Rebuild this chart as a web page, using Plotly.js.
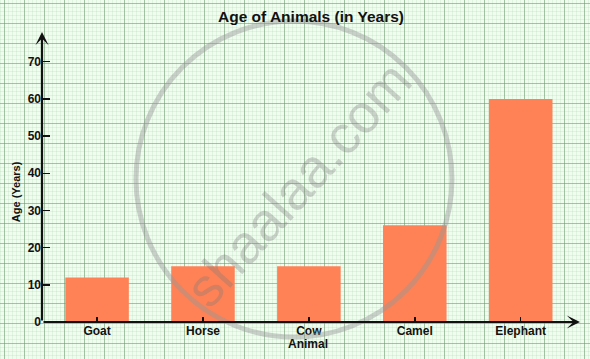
<!DOCTYPE html>
<html>
<head>
<meta charset="utf-8">
<script src="https://cdn.plot.ly/plotly-3.0.1.min.js"></script>
<style>
  html, body { margin: 0; padding: 0; }
  body {
    width: 590px; height: 359px; overflow: hidden;
    background-color: #f1fcf1;
    background-image:
      linear-gradient(to right, rgba(110,155,110,0.55) 1px, transparent 1px),
      linear-gradient(to bottom, rgba(110,155,110,0.55) 1px, transparent 1px),
      linear-gradient(to right, rgba(150,210,150,0.2) 1px, transparent 1px),
      linear-gradient(to bottom, rgba(150,210,150,0.2) 1px, transparent 1px);
    background-size: 20px 20px, 20px 20px, 4px 4px, 4px 4px;
    background-position: 4px 3px, 4px 3px, 0px 3px, 4px 3px;
  }
  #chart { width: 590px; height: 359px; }
</style>
</head>
<body>
<div id="chart"></div>
<script>
const categories = ["Goat", "Horse", "Cow", "Camel", "Elephant"];
const ages = [12, 15, 15, 26, 60];
const yTicks = [0, 10, 20, 30, 40, 50, 60, 70];
const chartTitle = "Age of Animals (in Years)";
const xTitle = "Animal";
const yTitle = "Age (Years)";
const watermark = "shaalaa.com";

const FONT = "Liberation Sans, Arial, sans-serif";
const boldFont = (s) => ({family: FONT, size: s, color: "#111", weight: "bold"});

const trace = {
  type: "bar",
  x: categories,
  y: ages,
  marker: {color: "#ff8256", line: {width: 0}},
  hoverinfo: "skip"
};

const layout = {
  width: 590, height: 359,
  margin: {l: 42, r: 10, t: 32, b: 37},
  paper_bgcolor: "rgba(0,0,0,0)",
  plot_bgcolor: "rgba(0,0,0,0)",
  bargap: 0.4,
  showlegend: false,
  title: {text: chartTitle, font: boldFont(15.5), x: 0.5, xref: "paper", y: 0.955, yref: "container", yanchor: "middle"},
  xaxis: {
    type: "category",
    range: [-0.52, 4.56],
    showgrid: false, zeroline: false, showline: false,
    ticks: "inside", ticklen: 5, tickwidth: 1.5, tickcolor: "#111",
    tickfont: boldFont(12),
    ticklabelstandoff: 0,
    fixedrange: true
  },
  yaxis: {
    range: [0, 78],
    tickvals: yTicks,
    ticktext: yTicks.map(String),
    showgrid: false, zeroline: false, showline: false,
    ticks: "inside", ticklen: 8, tickwidth: 1.5, tickcolor: "#111",
    tickfont: boldFont(12),
    fixedrange: true
  },
  shapes: [
    {type: "circle", xref: "paper", yref: "paper", layer: "above",
     x0: 0.1747, x1: 0.762, y0: -0.052, y1: 1.038,
     line: {color: "rgba(150,150,150,0.45)", width: 5}}
  ],
  annotations: [
    {xref: "paper", yref: "paper", x: 0, y: 1, ax: 0, ay: 290, axref: "pixel", ayref: "pixel",
     text: "", showarrow: true, arrowhead: 3, arrowsize: 1, arrowwidth: 2.2, arrowcolor: "#111", standoff: 0},
    {xref: "paper", yref: "paper", x: 1, y: 0, ax: -538, ay: 0, axref: "pixel", ayref: "pixel",
     text: "", showarrow: true, arrowhead: 3, arrowsize: 1, arrowwidth: 2.2, arrowcolor: "#111", standoff: 0},
    {xref: "paper", yref: "paper", x: 0.495, y: -0.075, yanchor: "middle", xanchor: "center",
     text: xTitle, showarrow: false, font: boldFont(12)},
    {xref: "paper", yref: "paper", x: -0.049, y: 0.45, yanchor: "middle", xanchor: "center",
     text: yTitle, textangle: -90, showarrow: false, font: boldFont(11)},
    {xref: "paper", yref: "paper", x: 0.476, y: 0.476, xanchor: "center", yanchor: "middle",
     text: watermark, textangle: -48, showarrow: false,
     font: {family: FONT, size: 54, color: "rgba(120,120,120,0.33)"}}
  ]
};

Plotly.newPlot("chart", [trace], layout, {displayModeBar: false, staticPlot: true});
</script>
</body>
</html>
